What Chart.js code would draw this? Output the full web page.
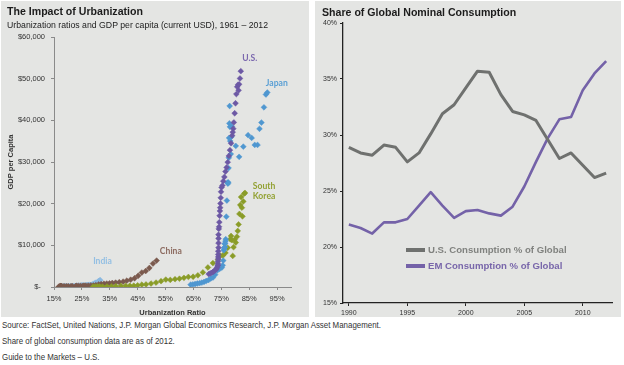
<!DOCTYPE html>
<html>
<head>
<meta charset="utf-8">
<script src="https://cdn.jsdelivr.net/npm/chart.js@4.4.1/dist/chart.umd.min.js"></script>
<style>
  body { margin:0; width:624px; height:365px; background:#fff; position:relative; overflow:hidden; font-family:'Liberation Sans', Arial, sans-serif; color:#222; }
  .panel { position:absolute; top:1px; height:316px; background:#e4e5e3; }
  #leftPanel { left:1px; width:308px; }
  #rightPanel { left:315px; width:306px; }
  canvas { position:absolute; top:0; }
  .title { position:absolute; font-weight:bold; font-size:10.6px; line-height:1; color:#1c1c1c; white-space:nowrap; }
  .sub { position:absolute; font-size:9.4px; line-height:1; color:#1c1c1c; white-space:nowrap; transform:scaleX(0.93); transform-origin:left top; }
  .foot { position:absolute; left:2px; font-size:8.6px; line-height:1; color:#333; white-space:nowrap; transform:scaleX(0.92); transform-origin:left top; }
</style>
</head>
<body>
<div class="panel" id="leftPanel"></div>
<div class="panel" id="rightPanel"></div>
<canvas id="urban" width="310" height="317" style="left:0"></canvas>
<canvas id="share" width="312" height="317" style="left:312px"></canvas>
<div class="title" style="left:7px;top:6px">The Impact of Urbanization</div>
<div class="sub" style="left:7px;top:19.5px">Urbanization ratios and GDP per capita (current USD), 1961 – 2012</div>
<div class="title" style="left:322px;top:7px">Share of Global Nominal Consumption</div>
<div class="foot" style="top:320.7px">Source: FactSet, United Nations, J.P. Morgan Global Economics Research, J.P. Morgan Asset Management.</div>
<div class="foot" style="top:336.7px">Share of global consumption data are as of 2012.</div>
<div class="foot" style="top:352.7px">Guide to the Markets – U.S.</div>
<script>
// [urbanization %, GDP per capita in USD], one point per year 1961-2012
const usPts = [
  [70.5,3100],[71.0,3250],[71.5,3400],[72.0,3600],[72.5,3850],[73.0,4150],[73.3,4350],[73.5,4700],
  [73.7,5050],[73.8,5250],[73.8,5600],[73.8,6100],[73.9,6700],[73.9,7200],[73.9,7800],[73.9,8600],
  [74.0,9450],[74.0,10550],[74.0,11650],[74.0,12550],[74.1,13950],[74.2,14450],[74.3,15550],[74.4,17100],
  [74.5,18250],[74.6,19050],[74.7,20050],[74.8,21400],[74.9,22850],[75.1,23900],[75.4,24350],[75.7,25400],
  [76.1,26400],[76.5,27700],[76.9,28700],[77.3,29950],[77.7,31450],[78.1,32850],[78.5,34500],[78.9,36350],
  [79.1,37150],[79.3,38000],[79.5,39500],[79.8,41700],[80.1,44100],[80.4,46300],[80.7,48050],[81.0,48550],
  [81.2,47200],[81.4,48650],[81.7,50050],[82.0,51800]
];
const japanPts = [
  [64.0,560],[64.8,630],[65.6,720],[66.4,840],[67.2,920],[68.0,1060],[68.8,1230],[69.6,1450],
  [70.4,1670],[71.2,2040],[72.0,2270],[72.8,2970],[73.6,4000],[74.4,4350],[75.2,4660],[75.5,5200],
  [75.7,6340],[75.9,8820],[76.0,9100],[76.1,9470],[76.2,10360],[76.3,9580],[76.4,10430],[76.5,10980],
  [76.6,11470],[76.8,16880],[77.0,20750],[77.2,25050],[77.4,24810],[77.5,25120],[77.6,28540],[77.7,31010],
  [77.8,35770],[77.9,39270],[78.0,43440],[78.1,38440],[78.2,35020],[78.4,31900],[78.6,36030],[78.8,38530],
  [80.2,33850],[81.4,31240],[82.9,33690],[84.6,36440],[85.9,35780],[87.0,34100],[88.0,34100],[88.7,37970],
  [89.4,39470],[90.3,43120],[91.0,46200],[91.5,46680]
];
const koreaPts = [
  [29.0,90],[29.8,105],[30.6,145],[31.4,125],[32.4,105],[34.0,130],[35.6,160],[37.2,195],
  [39.0,245],[40.7,280],[42.2,300],[43.6,325],[45.0,405],[46.5,560],[48.0,615],[49.8,830],
  [51.6,1060],[53.4,1400],[55.1,1780],[56.7,1700],[58.4,1870],[60.0,1990],[61.6,2200],[63.2,2410],
  [64.9,2460],[66.6,2800],[68.4,3510],[70.2,4690],[72.0,5740],[73.8,6520],[74.7,7520],[75.6,7560],
  [76.5,8210],[77.3,9410],[78.2,11470],[78.5,12250],[78.8,11240],[79.1,7460],[79.4,9550],[79.8,11350],
  [80.2,10660],[80.6,12090],[80.9,13450],[81.2,15030],[81.5,17550],[81.8,19680],[82.1,21590],[82.4,19030],
  [82.6,16960],[82.9,20540],[83.2,22390],[83.5,22590]
];
const chinaPts = [
  [16.7,75],[17.0,70],[17.2,74],[17.4,85],[17.5,98],[17.6,104],[17.6,96],[17.6,91],
  [17.6,100],[17.4,112],[17.3,118],[17.2,132],[17.2,157],[17.2,160],[17.3,178],[17.4,165],
  [17.6,185],[17.9,156],[18.6,184],[19.4,195],[20.1,197],[21.1,203],[21.6,225],[23.0,251],
  [22.9,294],[23.7,282],[24.5,252],[25.3,284],[25.8,311],[26.4,317],[27.3,333],[28.2,366],
  [29.1,377],[30.0,473],[31.0,610],[31.9,709],[32.9,782],[33.9,829],[34.9,873],[35.9,959],
  [37.1,1053],[38.4,1149],[39.8,1289],[41.1,1509],[42.5,1753],[43.9,2099],[45.2,2695],[46.5,3471],
  [47.9,3838],[49.2,4560],[50.5,5634],[51.8,6337]
];
const indiaPts = [
  [18.0,85],[18.2,90],[18.4,100],[18.6,115],[18.8,120],[19.0,90],[19.2,95],[19.4,100],
  [19.6,108],[19.8,112],[20.1,118],[20.4,122],[20.7,143],[21.0,163],[21.3,158],[21.7,161],
  [22.1,186],[22.5,206],[22.8,224],[23.1,267],[23.3,271],[23.5,275],[23.8,292],[24.0,277],
  [24.3,296],[24.5,310],[24.8,340],[25.0,355],[25.2,347],[25.5,368],[25.7,303],[25.9,317],
  [26.1,301],[26.4,346],[26.6,374],[26.8,400],[27.0,415],[27.2,413],[27.5,442],[27.7,443],
  [28.0,452],[28.3,471],[28.6,547],[28.9,627],[29.2,740],[29.5,830],[29.9,1023],[30.2,998],
  [30.6,1102],[30.9,1380],[31.3,1550],[31.6,1650]
];
const urbTicks = [15, 25, 35, 45, 55, 65, 75, 85, 95];
const gdpTicks = [0, 10000, 20000, 30000, 40000, 50000, 60000];

// share of global nominal consumption, %
const years = [1990,1991,1992,1993,1994,1995,1996,1997,1998,1999,2000,2001,2002,2003,2004,2005,2006,2007,2008,2009,2010,2011,2012];
const usShare = [28.9,28.4,28.2,29.1,28.9,27.6,28.4,30.1,31.9,32.7,34.2,35.7,35.6,33.6,32.1,31.8,31.3,29.6,27.9,28.4,27.3,26.2,26.6];
const emShare = [22.0,21.7,21.2,22.2,22.2,22.5,23.7,24.9,23.7,22.6,23.2,23.3,23.0,22.8,23.6,25.4,27.6,29.7,31.4,31.6,34.0,35.5,36.6];
const shareTicks = [15, 20, 25, 30, 35, 40];

Chart.defaults.font.family = "'Liberation Sans', Arial, sans-serif";
Chart.defaults.color = '#333';
Chart.defaults.animation = false;

const axisGray = '#8a8a8a';

function toXY(arr) {
    return arr.map(p => ({ x: p[0], y: p[1] }));
}

function scatterSet(label, pts, color) {
    return {
        label: label,
        data: toXY(pts),
        pointStyle: 'rectRot',
        pointRadius: 2.9,
        backgroundColor: color,
        borderColor: color,
        borderWidth: 0.5
    };
}

// country names written next to their clouds
const countryLabels = [
    { text: 'U.S.', x: 85.2, y: 55000, color: '#7b68ae', align: 'center' },
    { text: 'Japan', x: 94.9, y: 48800, color: '#5a9fd4', align: 'center' },
    { text: 'South', x: 86.3, y: 24200, color: '#93a234', align: 'left' },
    { text: 'Korea', x: 86.3, y: 21800, color: '#93a234', align: 'left' },
    { text: 'China', x: 56.9, y: 8600, color: '#8c6b60', align: 'center' },
    { text: 'India', x: 32.4, y: 6100, color: '#93bfe3', align: 'center' }
];

const labelPlugin = {
    id: 'countryLabels',
    afterDatasetsDraw(chart) {
        const ctx = chart.ctx;
        const xs = chart.scales.x, ys = chart.scales.y;
        ctx.save();
        ctx.font = "bold 8.6px Lato, 'Liberation Sans', sans-serif";
        ctx.textBaseline = 'middle';
        countryLabels.forEach(l => {
            ctx.fillStyle = l.color;
            ctx.textAlign = l.align;
            ctx.fillText(l.text, xs.getPixelForValue(l.x), ys.getPixelForValue(l.y));
        });
        ctx.restore();
    }
};

new Chart(document.getElementById('urban').getContext('2d'), {
    type: 'scatter',
    data: {
        datasets: [
            scatterSet('U.S.', usPts, '#6c58a4'),
            scatterSet('Japan', japanPts, '#4f97d0'),
            scatterSet('South Korea', koreaPts, '#8a9c28'),
            scatterSet('China', chinaPts, '#7b5a4e'),
            scatterSet('India', indiaPts, '#8ab8e0')
        ]
    },
    options: {
        responsive: false,
        layout: { padding: { top: 37, right: 19, bottom: 0, left: 0 } },
        plugins: { legend: { display: false }, tooltip: { enabled: false } },
        scales: {
            x: {
                type: 'linear',
                min: 15,
                max: 100,
                afterBuildTicks: s => { s.ticks = urbTicks.map(v => ({ value: v })); },
                afterFit: s => { s.height = 30; },
                ticks: { font: { size: 7.5 }, padding: 4, maxRotation: 0, callback: v => v + '%' },
                grid: { drawOnChartArea: false, tickLength: 3, color: axisGray },
                border: { color: axisGray },
                title: { display: true, text: 'Urbanization Ratio', font: { size: 7.5, weight: 'bold' }, padding: { top: 0, bottom: 0 }, color: '#333' }
            },
            y: {
                min: 0,
                max: 60000,
                afterBuildTicks: s => { s.ticks = gdpTicks.map(v => ({ value: v })); },
                afterFit: s => { s.width = 54; },
                ticks: { font: { size: 7.5 }, padding: 6, callback: v => v === 0 ? '$-  ' : '$' + v.toLocaleString('en-US') },
                grid: { drawOnChartArea: false, tickLength: 3, color: axisGray },
                border: { color: axisGray },
                title: { display: true, text: 'GDP per Capita', font: { size: 7.5, weight: 'bold' }, padding: { top: 6, bottom: 0 }, color: '#333' }
            }
        }
    },
    plugins: [labelPlugin]
});

// legend drawn inside the plot area, as in the original
const legendItems = [
    { text: 'U.S. Consumption % of Global', color: '#6f716f', textColor: '#80827f', dy: 227 },
    { text: 'EM Consumption % of Global', color: '#7462a8', textColor: '#7866aa', dy: 243 }
];

const legendPlugin = {
    id: 'innerLegend',
    afterDatasetsDraw(chart) {
        const ctx = chart.ctx;
        const a = chart.chartArea;
        ctx.save();
        ctx.font = "bold 9.6px 'Liberation Sans', Arial, sans-serif";
        ctx.textBaseline = 'middle';
        ctx.textAlign = 'left';
        legendItems.forEach(it => {
            const y = a.top + it.dy;
            ctx.fillStyle = it.color;
            ctx.fillRect(a.left + 63, y - 2, 19, 4);
            ctx.fillStyle = it.textColor;
            ctx.fillText(it.text, a.left + 85, y + 0.5);
        });
        ctx.restore();
    }
};

new Chart(document.getElementById('share').getContext('2d'), {
    type: 'line',
    data: {
        labels: years,
        datasets: [
            { label: 'U.S. Consumption % of Global', data: usShare, borderColor: '#6f716f', borderWidth: 3, pointRadius: 0, tension: 0, borderJoinStyle: 'round' },
            { label: 'EM Consumption % of Global', data: emShare, borderColor: '#7462a8', borderWidth: 2.6, pointRadius: 0, tension: 0, borderJoinStyle: 'round' }
        ]
    },
    options: {
        responsive: false,
        layout: { padding: { top: 23, right: 12, bottom: 0, left: 0 } },
        plugins: { legend: { display: false }, tooltip: { enabled: false } },
        scales: {
            x: {
                offset: true,
                afterFit: s => { s.height = 14; },
                ticks: {
                    font: { size: 7 }, padding: 3, autoSkip: false, maxRotation: 0,
                    callback: (v, i) => years[i] % 5 === 0 ? String(years[i]) : null
                },
                grid: { drawOnChartArea: false, tickLength: 3, color: '#222', offset: false },
                border: { color: '#222', width: 1.3 }
            },
            y: {
                min: 15,
                max: 40,
                afterBuildTicks: s => { s.ticks = shareTicks.map(v => ({ value: v })); },
                afterFit: s => { s.width = 31; },
                ticks: { font: { size: 7 }, padding: 3, callback: v => v + '%' },
                grid: { drawOnChartArea: false, tickLength: 3, color: '#222' },
                border: { color: '#222', width: 1.3 }
            }
        }
    },
    plugins: [legendPlugin]
});
</script>
</body>
</html>
